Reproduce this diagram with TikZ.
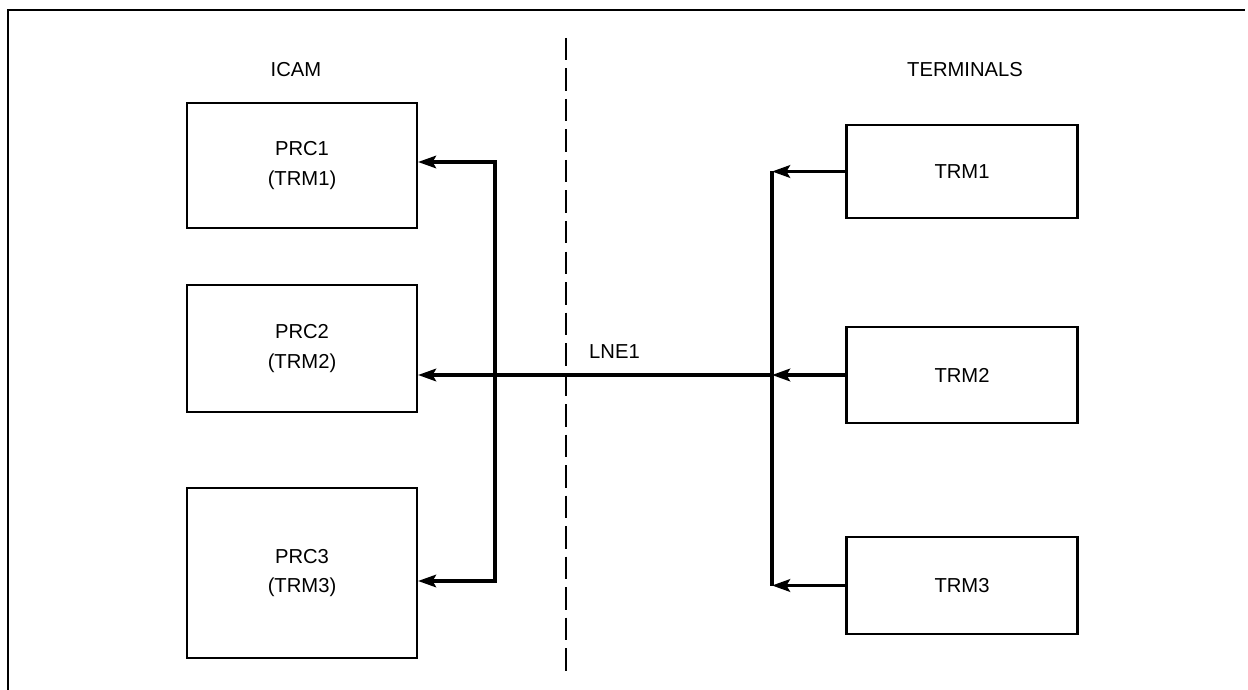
\documentclass[tikz,border=0pt]{standalone}
\usepackage{fontspec}
\setmainfont{Liberation Sans}
\usepackage{tikz}
\usetikzlibrary{arrows.meta, positioning, calc}

\begin{document}
\begin{tikzpicture}[
  box/.style={draw, line width=1.2pt, minimum width=#1, inner sep=0pt,
              font=\fontsize{11.5}{17}\selectfont, align=center},
  box/.default=4.6cm,
  tip/.style={Stealth[length=3.6mm, width=2.5mm, inset=0.7mm]},
  arr/.style={-{Stealth[length=3.6mm, width=2.5mm, inset=0.7mm]}, line width=2pt},
  bus/.style={line width=1.8pt},
  lbl/.style={font=\fontsize{11.5}{17}\selectfont},
]
  \useasboundingbox (0,0) rectangle (24.96,-13.8);
  % open frame (top and left only)
  \draw[line width=1.3pt] (0.16,-13.8) -- (0.16,-0.2) -- (24.9,-0.2);

  \node[lbl] (icam) at (5.92,-1.4) {ICAM};
  \node[lbl] (term) at (19.3,-1.4) {TERMINALS};
  \draw[line width=1.3pt, dash pattern=on 0.45cm off 0.16cm] (11.32,-0.76) -- (11.32,-13.46);

  % processes
  \node[box, minimum height=2.5cm]  (prc1) at (6.04,-3.31)  {PRC1\\(TRM1)};
  \node[box, minimum height=2.54cm] (prc2) at (6.04,-6.97)  {PRC2\\(TRM2)};
  \node[box, minimum height=3.4cm]  (prc3) at (6.04,-11.46) {PRC3\\(TRM3)};

  % terminals
  \node[box=4.62cm, minimum height=1.86cm] (trm1) at (19.24,-3.43)  {TRM1};
  \node[box=4.62cm, minimum height=1.92cm] (trm2) at (19.24,-7.5)   {TRM2};
  \node[box=4.62cm, minimum height=1.94cm] (trm3) at (19.24,-11.71) {TRM3};

  \coordinate (lb1) at (9.9,-3.24);
  \coordinate (lb3) at (9.9,-11.62);
  \coordinate (rb1) at (15.44,-3.43);
  \coordinate (rb2) at (15.44,-7.5);
  \coordinate (rb3) at (15.44,-11.71);

  \draw[bus] (rb1) -- (rb3);
  \draw[arr] (trm1.west) -- (rb1);
  \draw[arr] (trm2.west) -- (rb2);
  \draw[arr] (trm3.west) -- (rb3);

  \draw[arr] (rb2) -- node[lbl, pos=0.445, above=5pt] (lne) {LNE1} (rb2 -| prc2.east);
  \draw[{Stealth[length=3.6mm, width=2.5mm, inset=0.7mm]}-{Stealth[length=3.6mm, width=2.5mm, inset=0.7mm]}, bus]
    (lb1 -| prc1.east) -- (lb1) -- (lb3) -- (lb3 -| prc3.east);
\end{tikzpicture}
\end{document}
